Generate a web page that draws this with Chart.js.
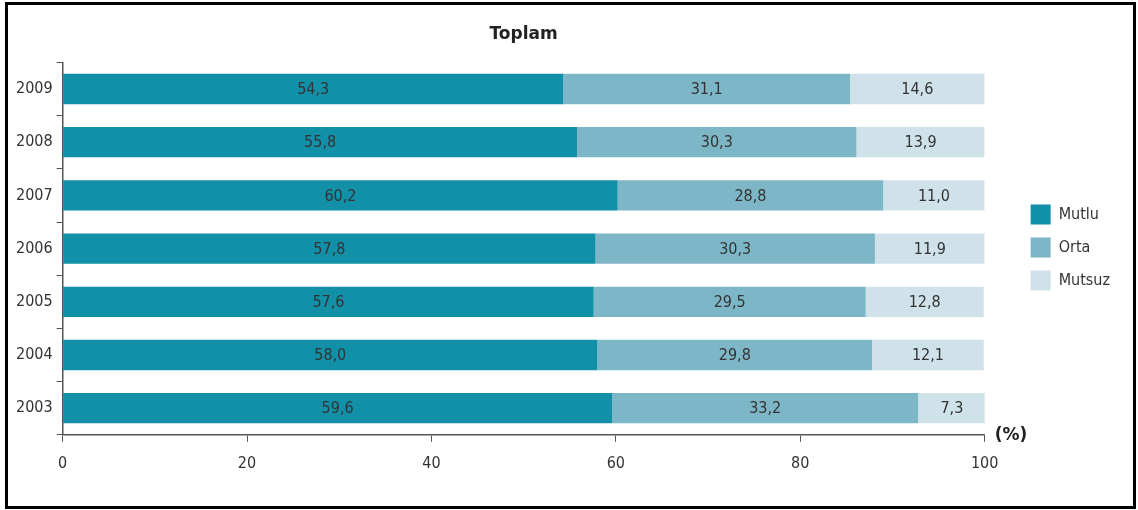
<!DOCTYPE html>
<html>
<head>
<meta charset="utf-8">
<script src="https://cdn.jsdelivr.net/npm/chart.js@4/dist/chart.umd.min.js"></script>
<style>
  body { margin: 0; background: #fff; }
  #wrap { position: relative; width: 1138px; height: 510px; }
  #frame { position: absolute; left: 5px; top: 2px; width: 1125px; height: 501px; border: 3px solid #000; pointer-events: none; }
</style>
</head>
<body>
<div id="wrap">
  <canvas id="grafik" width="1138" height="510"></canvas>
  <div id="frame"></div>
</div>
<script>
// Yillar (ustten alta)
const yillar = ['2009', '2008', '2007', '2006', '2005', '2004', '2003'];
const mutlu  = [54.3, 55.8, 60.2, 57.8, 57.6, 58.0, 59.6];
const orta   = [31.1, 30.3, 28.8, 30.3, 29.5, 29.8, 33.2];
const mutsuz = [14.6, 13.9, 11.0, 11.9, 12.8, 12.1, 7.3];
const xTikleri = [0, 20, 40, 60, 80, 100];

const yaziTipi = "'DejaVu Sans Condensed', 'DejaVu Sans', sans-serif";

// Bar ortasina deger yazan eklenti
const degerEtiketleri = {
    id: 'degerEtiketleri',
    afterDatasetsDraw(chart) {
        const ctx = chart.ctx;
        ctx.save();
        ctx.font = '16px ' + yaziTipi;
        ctx.fillStyle = '#333';
        ctx.textAlign = 'center';
        ctx.textBaseline = 'middle';
        chart.data.datasets.forEach((ds, i) => {
            chart.getDatasetMeta(i).data.forEach((bar, j) => {
                const x = (bar.x + bar.base) / 2;
                ctx.fillText(ds.data[j].toFixed(1).replace('.', ','), x, bar.y + 1);
            });
        });
        // eksen birimi
        const xs = chart.scales.x;
        ctx.font = "bold 17px 'DejaVu Sans', sans-serif";
        ctx.fillStyle = '#222';
        ctx.textAlign = 'left';
        ctx.fillText('(%)', xs.right + 10, xs.top + 1);
        ctx.restore();
    }
};

const ctx = document.getElementById('grafik').getContext('2d');
new Chart(ctx, {
    type: 'bar',
    data: {
        labels: yillar,
        datasets: [
            { label: 'Mutlu', data: mutlu, backgroundColor: '#1190a8' },
            { label: 'Orta', data: orta, backgroundColor: '#7db6c6' },
            { label: 'Mutsuz', data: mutsuz, backgroundColor: '#cfe2ea' }
        ]
    },
    options: {
        indexAxis: 'y',
        responsive: false,
        animation: false,
        layout: { padding: { left: 12, right: 18, top: 10, bottom: 25 } },
        datasets: { bar: { categoryPercentage: 1, barPercentage: 0.57 } },
        scales: {
            x: {
                stacked: true,
                min: 0,
                max: 100,
                afterBuildTicks: (axis) => { axis.ticks = xTikleri.map(v => ({ value: v })); },
                grid: { drawOnChartArea: false, tickLength: 7, color: '#555' },
                border: { color: '#555', width: 1.5 },
                ticks: { padding: 12, color: '#333', font: { family: yaziTipi, size: 16 } }
            },
            y: {
                stacked: true,
                grid: { drawOnChartArea: false, offset: true, tickLength: 6, color: '#555' },
                border: { color: '#555', width: 1.5 },
                ticks: { padding: 4, color: '#333', font: { family: yaziTipi, size: 16 } }
            },
            // grafik ile lejant arasinda bosluk
            bosluk: {
                type: 'linear',
                position: 'right',
                grid: { display: false },
                border: { display: false },
                ticks: { display: false },
                afterFit: (scale) => { scale.width = 33; }
            }
        },
        plugins: {
            title: {
                display: true,
                fullSize: false,
                text: 'Toplam',
                color: '#222',
                font: { family: "'DejaVu Sans', sans-serif", size: 17, weight: 'bold' },
                padding: { top: 14, bottom: 18 }
            },
            legend: {
                position: 'right',
                labels: {
                    boxWidth: 20,
                    boxHeight: 20,
                    padding: 13,
                    color: '#333',
                    font: { family: yaziTipi, size: 16 }
                }
            },
            tooltip: { enabled: false }
        }
    },
    plugins: [degerEtiketleri]
});
</script>
</body>
</html>
